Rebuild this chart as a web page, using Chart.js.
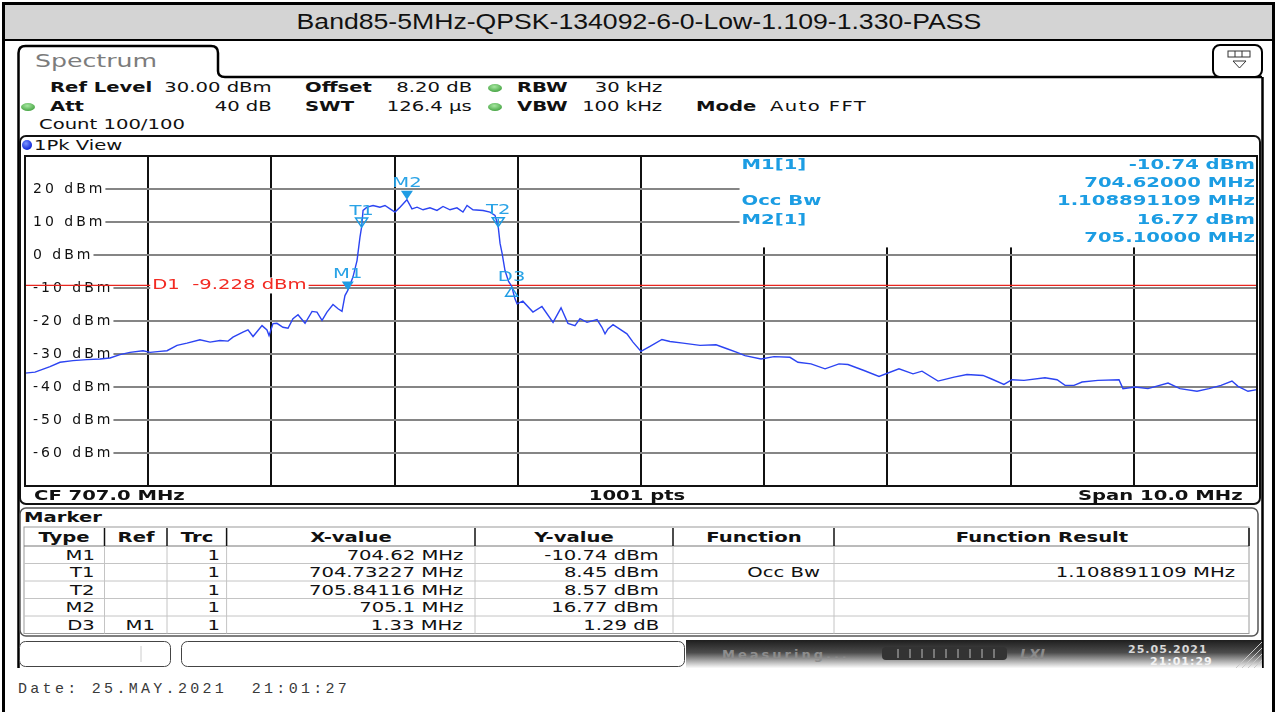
<!DOCTYPE html>
<html>
<head>
<meta charset="utf-8">
<title>Band85 occupied bandwidth</title>
<script src="https://cdn.jsdelivr.net/npm/chart.js@4.4.1/dist/chart.umd.min.js"></script>
<style>
  html, body { margin: 0; padding: 0; background: #fff; }
  #page { position: relative; width: 1277px; height: 712px; overflow: hidden; background: #fff; }
  #frame { position: absolute; left: 0; top: 0; }
  /* the instrument font is a wide sans: DejaVu stretched sideways */
  .t, .tr, .tc { position: absolute; font-family: 'DejaVu Sans', sans-serif; font-size: 14px;
       line-height: 16px; white-space: nowrap; color: #111; }
  .t  { transform: scaleX(1.4); transform-origin: left center; }
  .tr { transform: scaleX(1.4); transform-origin: right center; }
  .tc { transform: translateX(-50%) scaleX(1.4); transform-origin: center center; }
  .b { font-weight: bold; }
  #title { position: absolute; left: 0; top: 9px; width: 1277px; text-align: center;
           font: 22px 'Liberation Sans', Arial, sans-serif; color: #111; }
  #title span { display: inline-block; transform: scaleX(1.21); }
  #date { position: absolute; left: 18px; top: 681px; font: 15px 'Liberation Mono', monospace;
          letter-spacing: 3.3px; color: #3a3a3a; white-space: pre; }
  #spec { position: absolute; left: 20px; top: 151px; }
</style>
</head>
<body>
<div id="page">
  <svg id="frame" width="1277" height="712">
    <defs>
      <linearGradient id="bar" x1="0" y1="0" x2="0" y2="1">
        <stop offset="0" stop-color="#1e1e1e"/>
        <stop offset="0.45" stop-color="#4c4c4c"/>
        <stop offset="1" stop-color="#fbfbfb"/>
      </linearGradient>
      <radialGradient id="blueDot" cx="0.4" cy="0.35" r="0.65">
        <stop offset="0" stop-color="#7d95ff"/>
        <stop offset="1" stop-color="#0b22d6"/>
      </radialGradient>
      <radialGradient id="greenDot" cx="0.45" cy="0.35" r="0.7">
        <stop offset="0" stop-color="#a6e7a0"/>
        <stop offset="1" stop-color="#3f9f3c"/>
      </radialGradient>
    </defs>
    <!-- outer frame and title bar -->
    <rect x="5" y="5" width="1267" height="34" fill="#d4d4d4"/>
    <path d="M2 3.5 H1275" stroke="#000" stroke-width="3"/>
    <path d="M3.5 2 V712" stroke="#000" stroke-width="3"/>
    <path d="M1273.5 2 V712" stroke="#000" stroke-width="3"/>
    <path d="M5 40 H1272" stroke="#000" stroke-width="2"/>
    <!-- instrument screen edges + Spectrum tab -->
    <path d="M18.5 668 V53 Q18.5 46 25.5 46 H211 Q218 46 218 53 V71 Q218 77 225 77 H1262" fill="none" stroke="#000" stroke-width="2.5"/>
    <path d="M1262.5 77 V668" stroke="#000" stroke-width="2.5"/>
    <rect x="1213" y="45" width="49" height="32" rx="7" fill="#fff" stroke="#000" stroke-width="2"/>
    <rect x="1228" y="51" width="22" height="6" fill="#fff" stroke="#333" stroke-width="1"/>
    <path d="M1235 51 V57 M1242 51 V57" stroke="#333" stroke-width="1"/>
    <path d="M1233 61 H1246 L1239.5 68 Z" fill="#fff" stroke="#333" stroke-width="1"/>
    <!-- settings LEDs -->
    <ellipse cx="495" cy="88" rx="7" ry="4" fill="url(#greenDot)"/>
    <ellipse cx="495" cy="107" rx="7" ry="4" fill="url(#greenDot)"/>
    <ellipse cx="28" cy="107" rx="7" ry="4" fill="url(#greenDot)"/>
    <!-- diagram window -->
    <rect x="20" y="136" width="1240" height="368" rx="6" fill="none" stroke="#111" stroke-width="2"/>
    <circle cx="27" cy="145" r="5" fill="url(#blueDot)"/>
    <!-- marker table window -->
    <rect x="20" y="508" width="1238" height="128" rx="6" fill="none" stroke="#555" stroke-width="1.5"/>
    <g id="tableLines"></g>
    <!-- status bar -->
    <rect x="19.5" y="641.5" width="151" height="25" rx="6" fill="#fff" stroke="#444" stroke-width="1"/>
    <path d="M141 646 V662" stroke="#ccc" stroke-width="1"/>
    <rect x="181.5" y="641.5" width="503" height="25" rx="6" fill="#fff" stroke="#444" stroke-width="1"/>
    <rect x="686" y="640" width="576" height="28" fill="url(#bar)"/>
    <text x="722" y="659" font-family="DejaVu Sans" font-weight="bold" font-size="13" letter-spacing="3" fill="#8d8d8d">Measuring...</text>
    <rect x="882" y="647" width="125" height="13" rx="4" fill="#333"/>
    <path d="M898 649 V658 M910 649 V658 M922 649 V658 M934 649 V658 M946 649 V658 M958 649 V658 M970 649 V658 M982 649 V658 M994 649 V658" stroke="#bdbdbd" stroke-width="1"/>
    <text x="1020" y="659" font-family="DejaVu Sans" font-style="italic" font-weight="bold" font-size="14" fill="#8a8a8a">LXI</text>
    <text x="1128" y="653" font-family="DejaVu Sans" font-weight="bold" font-size="11" letter-spacing="1" fill="#d8d8d8">25.05.2021</text>
    <text x="1150" y="665" font-family="DejaVu Sans" font-weight="bold" font-size="11" letter-spacing="1" fill="#f2f2f2">21:01:29</text>
    <path d="M1236 668 L1262 642 M1242 668 L1262 648 M1248 668 L1262 654 M1254 668 L1262 660" stroke="#c8c8c8" stroke-width="1"/>
  </svg>

  <div id="title"><span>Band85-5MHz-QPSK-134092-6-0-Low-1.109-1.330-PASS</span></div>

  <div class="t" style="left:35px;top:51px;font-size:18px;line-height:20px;color:#7c7c7c">Spectrum</div>

  <div class="t b" style="left:50px;top:79px">Ref Level</div>
  <div class="tr" style="right:1005px;top:79px">30.00 dBm</div>
  <div class="t b" style="left:305px;top:79px">Offset</div>
  <div class="tr" style="right:805px;top:79px">8.20 dB</div>
  <div class="t b" style="left:517px;top:79px">RBW</div>
  <div class="tr" style="right:615px;top:79px">30 kHz</div>
  <div class="t b" style="left:50px;top:98px">Att</div>
  <div class="tr" style="right:1005px;top:98px">40 dB</div>
  <div class="t b" style="left:305px;top:98px">SWT</div>
  <div class="tr" style="right:805px;top:98px">126.4 µs</div>
  <div class="t b" style="left:517px;top:98px">VBW</div>
  <div class="tr" style="right:615px;top:98px">100 kHz</div>
  <div class="t b" style="left:696px;top:98px">Mode</div>
  <div class="t" style="left:770px;top:98px;letter-spacing:1px">Auto FFT</div>
  <div class="t" style="left:39px;top:116px">Count 100/100</div>

  <div class="t" style="left:34px;top:137px">1Pk View</div>

  <canvas id="spec" width="1242" height="340"></canvas>

  <div class="t b" style="left:34px;top:487px">CF 707.0 MHz</div>
  <div class="tc b" style="left:637px;top:487px">1001 pts</div>
  <div class="tr b" style="right:34px;top:487px">Span 10.0 MHz</div>

  <div class="t b" style="left:24px;top:509px">Marker</div>
  <div id="table"></div>

  <div id="date">Date: 25.MAY.2021  21:01:27</div>
</div>

<script>
// Trace 1 (1Pk View): frequency in MHz, level in dBm
const freqMHz = [
    702.000, 702.081, 702.203, 702.284, 702.390, 702.503, 702.609, 702.690, 702.771, 702.852,
    702.958, 703.015, 703.096, 703.153, 703.234, 703.315, 703.420, 703.502, 703.583, 703.648,
    703.688, 703.769, 703.810, 703.851, 703.891, 703.924, 703.964, 703.981, 704.013, 704.045,
    704.094, 704.135, 704.175, 704.216, 704.273, 704.330, 704.370, 704.411, 704.451, 704.500,
    704.541, 704.573, 704.597,
    704.620, 704.662, 704.695, 704.719, 704.732, 704.744, 704.776, 704.825, 704.881, 704.922,
    704.963, 705.003, 705.044, 705.100, 705.141, 705.182, 705.231, 705.287, 705.344, 705.393,
    705.450, 705.506, 705.555, 705.588, 705.636, 705.718, 705.774, 705.815, 705.841, 705.856,
    705.873, 705.896, 705.925, 705.950, 705.977,
    705.994, 706.041, 706.123, 706.196, 706.286, 706.351, 706.407, 706.464, 706.505, 706.562,
    706.643, 706.683, 706.708, 706.732, 706.773, 706.886, 706.935, 707.000, 707.073, 707.170,
    707.235, 707.341, 707.479, 707.609, 707.698, 707.779, 707.844, 707.974, 708.080, 708.209,
    708.274, 708.380, 708.494, 708.607, 708.680, 708.810, 708.932, 709.094, 709.208, 709.281,
    709.411, 709.541, 709.646, 709.776, 709.841, 709.946, 710.011, 710.109, 710.279, 710.377,
    710.442, 710.515, 710.580, 710.709, 710.880, 710.912, 711.010, 711.115, 711.278, 711.375,
    711.513, 711.610, 711.708, 711.797, 711.846, 711.927, 712.000
];
const levelDbm = [
    -35.8, -35.5, -33.8, -32.5, -32.0, -31.7, -31.5, -31.2, -30.2, -29.5,
    -29.0, -29.5, -29.2, -29.0, -27.4, -26.7, -25.7, -26.4, -25.9, -26.1,
    -24.9, -23.4, -22.7, -24.7, -22.9, -21.4, -22.7, -24.4, -20.8, -20.7,
    -21.9, -22.2, -19.3, -18.1, -20.7, -17.1, -17.3, -19.8, -17.3, -15.0,
    -16.3, -17.1, -12.3,
    -10.74, -6.7, -1.7, 5.4, 8.45, 13.5, 14.5, 15.0, 14.5, 15.0,
    14.0, 13.0, 14.5, 16.77, 14.0, 14.5, 13.7, 14.3, 13.5, 14.7,
    13.7, 14.3, 13.0, 15.0, 13.7, 13.5, 13.0, 12.0, 8.57, 3.5,
    0.4, -4.7, -8.0, -9.45, -13.3,
    -14.8, -14.0, -17.3, -15.6, -20.4, -16.0, -20.7, -21.4, -19.3, -20.4,
    -19.6, -21.9, -23.9, -22.4, -21.1, -23.9, -26.4, -29.2, -27.7, -25.6,
    -26.2, -26.7, -27.4, -27.2, -28.4, -29.5, -30.5, -31.5, -30.8, -31.0,
    -32.5, -33.0, -34.5, -33.0, -33.2, -35.0, -36.8, -34.5, -36.0, -35.2,
    -38.2, -37.0, -36.2, -36.5, -37.5, -39.2, -37.8, -38.0, -37.2, -37.8,
    -39.5, -39.5, -38.5, -38.0, -37.8, -40.5, -40.0, -40.5, -38.8, -40.5,
    -41.3, -40.5, -39.5, -38.2, -39.8, -41.3, -40.8
];

// Axis: CF 707 MHz, span 10 MHz, ref level 30 dBm, 10 dB/div
const freqStartMHz = 702;
const freqStopMHz = 712;
const refLevelDbm = 30;
const bottomLevelDbm = -70;
const dbPerDiv = 10;

// Display line D1
const displayLineDbm = -9.228;

// Markers
const markerNames = ['M1', 'T1', 'T2', 'M2', 'D3'];
const markerRef = ['', '', '', '', 'M1'];
const markerTrace = ['1', '1', '1', '1', '1'];
const markerFreqMHz = [704.62, 704.73227, 705.84116, 705.1, 705.95];
const markerLevelDbm = [-10.74, 8.45, 8.57, 16.77, -9.45];
const markerXText = ['704.62 MHz', '704.73227 MHz', '705.84116 MHz', '705.1 MHz', '1.33 MHz'];
const markerYText = ['-10.74 dBm', '8.45 dBm', '8.57 dBm', '16.77 dBm', '1.29 dB'];
const markerFunc = ['', 'Occ Bw', '', '', ''];
const markerResult = ['', '1.108891109 MHz', '', '', ''];

// Marker readout in the upper right of the diagram
const readoutLeft = ['M1[1]', '', 'Occ Bw', 'M2[1]', ''];
const readoutRight = ['-10.74 dBm', '704.62000 MHz', '1.108891109 MHz', '16.77 dBm', '705.10000 MHz'];
const readoutFromMHz = 707.8;
const readoutDownToDbm = 2.3;

const tableHeads = ['Type', 'Ref', 'Trc', 'X-value', 'Y-value', 'Function', 'Function Result'];
const tableEdges = [24, 104.5, 167, 226.6, 475, 673, 834, 1249];
const cellPadRight = [10, 12, 7, 12, 14, 14, 14];

const textStretch = 1.4;

// ---- marker table (html) ----
function buildTable() {
    const host = document.getElementById('table');
    const lines = document.getElementById('tableLines');
    const top = 527, headH = 19, rowH = 17.5;
    const cols = [markerNames, markerRef, markerTrace, markerXText, markerYText, markerFunc, markerResult];
    let html = '';
    tableHeads.forEach((h, c) => {
        const mid = (tableEdges[c] + tableEdges[c + 1]) / 2;
        html += `<div class="tc b" style="left:${mid}px;top:${top + 2}px">${h}</div>`;
    });
    markerNames.forEach((_, r) => {
        const cy = top + headH + rowH * r + rowH / 2;
        cols.forEach((col, c) => {
            if (!col[r]) return;
            const right = 1277 - tableEdges[c + 1] + cellPadRight[c];
            html += `<div class="tr" style="right:${right}px;top:${cy - 8}px">${col[r]}</div>`;
        });
    });
    host.innerHTML = html;

    let svg = '';
    const bottom = top + headH + rowH * markerNames.length;
    svg += `<rect x="${tableEdges[0]}" y="${top}" width="${tableEdges[7] - tableEdges[0]}" height="${bottom - top}" fill="none" stroke="#9a9a9a" stroke-width="1"/>`;
    for (let r = 0; r < markerNames.length; r++) {
        const yy = top + headH + rowH * r;
        svg += `<path d="M${tableEdges[0]} ${yy} H${tableEdges[7]}" stroke="${r === 0 ? '#777' : '#c4c4c4'}" stroke-width="1"/>`;
    }
    for (let c = 1; c < tableEdges.length - 1; c++) {
        svg += `<path d="M${tableEdges[c]} ${top + 1} V${top + headH}" stroke="#111" stroke-width="1.5"/>`;
        svg += `<path d="M${tableEdges[c]} ${top + headH} V${bottom}" stroke="#c4c4c4" stroke-width="1"/>`;
    }
    svg += `<path d="M${tableEdges[7]} ${top + 1} V${top + headH}" stroke="#111" stroke-width="1.5"/>`;
    lines.innerHTML = svg;
}

// ---- spectrum diagram ----
function wideText(ctx, txt, px, py, align) {
    ctx.save();
    ctx.translate(px, py);
    ctx.scale(textStretch, 1);
    ctx.textAlign = align;
    ctx.fillText(txt, 0, 0);
    ctx.restore();
}

const screenPlugin = {
    id: 'screen',
    beforeLayout(chart) { chart.ctx.letterSpacing = '3px'; },
    beforeDraw(chart) { chart.ctx.letterSpacing = '3px'; },
    beforeDatasetsDraw(chart) {
        const { ctx, chartArea: a, scales: { x, y } } = chart;
        ctx.save();
        ctx.letterSpacing = '0px';
        // blank panel that holds the marker readout
        const boxL = x.getPixelForValue(readoutFromMHz);
        const boxB = y.getPixelForValue(readoutDownToDbm);
        ctx.fillStyle = '#fff';
        ctx.fillRect(boxL, a.top + 1, a.right - boxL - 1, boxB - a.top - 1);

        // display line
        const yd = y.getPixelForValue(displayLineDbm);
        ctx.strokeStyle = '#e8261f';
        ctx.lineWidth = 1.3;
        ctx.beginPath();
        ctx.moveTo(a.left, yd);
        ctx.lineTo(a.right, yd);
        ctx.stroke();
        ctx.font = '14px "DejaVu Sans"';
        ctx.textBaseline = 'middle';
        const txt = 'D1  ' + displayLineDbm.toFixed(3) + ' dBm';
        const tx = x.getPixelForValue(703) + 4;
        const w = ctx.measureText(txt).width * textStretch;
        ctx.fillStyle = '#fff';
        ctx.fillRect(tx - 2, yd - 8, w + 4, 16);
        ctx.fillStyle = '#f22a22';
        wideText(ctx, txt, tx, yd, 'left');
        ctx.restore();
    },
    afterDatasetsDraw(chart) {
        const { ctx, chartArea: a, scales: { x, y } } = chart;
        ctx.save();
        ctx.letterSpacing = '0px';
        ctx.textBaseline = 'middle';
        ctx.font = '14px "DejaVu Sans"';
        markerNames.forEach((name, i) => {
            const px = x.getPixelForValue(markerFreqMHz[i]);
            const py = y.getPixelForValue(markerLevelDbm[i]);
            ctx.fillStyle = '#1f9ce4';
            ctx.strokeStyle = '#1f9ce4';
            ctx.lineWidth = 1.5;
            ctx.beginPath();
            let ly;
            if (name[0] === 'D') {
                ctx.moveTo(px, py + 1);
                ctx.lineTo(px - 6, py + 10);
                ctx.lineTo(px + 6, py + 10);
                ctx.closePath();
                ctx.stroke();
                ly = py - 9;
            } else {
                ctx.moveTo(px - 6, py - 9);
                ctx.lineTo(px + 6, py - 9);
                ctx.lineTo(px, py);
                ctx.closePath();
                if (name[0] === 'M') {
                    ctx.fill();
                } else {
                    ctx.stroke();
                    ctx.beginPath();
                    ctx.moveTo(px, py - 8);
                    ctx.lineTo(px, py - 2);
                    ctx.stroke();
                }
                ly = py - 16;
            }
            ctx.fillStyle = '#2aa3e6';
            wideText(ctx, name, px, ly, 'center');
        });

        // readout
        const boxL = x.getPixelForValue(readoutFromMHz);
        ctx.font = 'bold 14px "DejaVu Sans"';
        ctx.fillStyle = '#1c9de3';
        readoutRight.forEach((txt, r) => {
            const ty = a.top + 9 + r * 18.3;
            if (readoutLeft[r]) wideText(ctx, readoutLeft[r], boxL + 2, ty, 'left');
            wideText(ctx, txt, a.right - 2, ty, 'right');
        });

        // diagram border
        ctx.strokeStyle = '#111';
        ctx.lineWidth = 2;
        ctx.strokeRect(a.left, a.top, a.right - a.left, a.bottom - a.top);
        ctx.restore();
    }
};

function initSpectrum() {
    const ctx = document.getElementById('spec').getContext('2d');
    window.spectrumChart = new Chart(ctx, {
        type: 'line',
        data: {
            datasets: [{
                label: '1Pk View',
                data: freqMHz.map((f, i) => ({ x: f, y: levelDbm[i] })),
                borderColor: '#2c44f2',
                borderWidth: 1.4,
                pointRadius: 0,
                tension: 0
            }]
        },
        options: {
            responsive: false,
            animation: false,
            devicePixelRatio: 1,
            layout: { padding: { left: 5, right: 5, top: 5, bottom: 5 }, autoPadding: false },
            plugins: { legend: { display: false }, tooltip: { enabled: false } },
            scales: {
                x: {
                    type: 'linear',
                    min: freqStartMHz,
                    max: freqStopMHz,
                    ticks: { stepSize: 1, display: false },
                    grid: { color: '#111', lineWidth: 2, drawTicks: false },
                    border: { display: false }
                },
                y: {
                    min: bottomLevelDbm,
                    max: refLevelDbm,
                    ticks: {
                        stepSize: dbPerDiv,
                        mirror: true,
                        padding: 8,
                        color: '#111',
                        font: { family: 'DejaVu Sans', size: 14 },
                        showLabelBackdrop: true,
                        backdropColor: '#fff',
                        backdropPadding: { left: 8, right: 0, top: 0, bottom: 0 },
                        callback: (val) => (val === refLevelDbm || val === bottomLevelDbm) ? '' : val + ' dBm'
                    },
                    grid: { color: '#858585', lineWidth: 2, drawTicks: false },
                    border: { display: false },
                    afterFit: (s) => { s.width = 0; s.paddingTop = 0; s.paddingBottom = 0; }
                }
            }
        },
        plugins: [screenPlugin]
    });
}

document.addEventListener('DOMContentLoaded', () => {
    buildTable();
    initSpectrum();
});
</script>
</body>
</html>
